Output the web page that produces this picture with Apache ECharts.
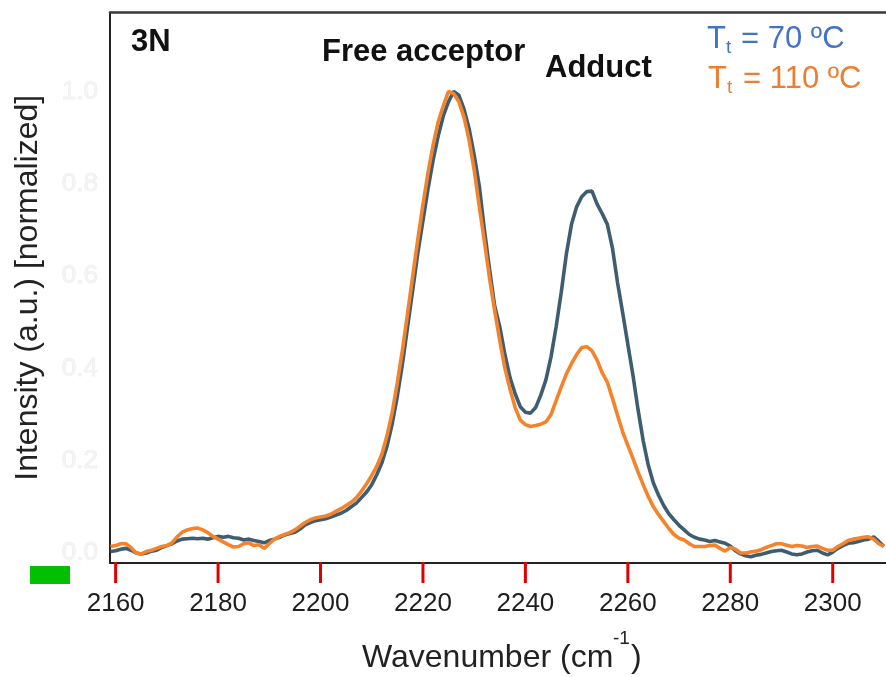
<!DOCTYPE html>
<html>
<head>
<meta charset="utf-8">
<script src="https://cdn.jsdelivr.net/npm/echarts@6/dist/echarts.min.js"></script>
<style>
  html, body { margin: 0; padding: 0; background: #fff; }
  #chart { width: 886px; height: 677px; }
</style>
</head>
<body>
<div id="chart"></div>
<script>
// Wavenumber grid (cm^-1), one point per wavenumber
const wavenumbers = [];
for (let w = 2159; w <= 2310; w++) wavenumbers.push(w);

// Normalized intensity, Tt = 70 ºC
const intensity70 = [
  0.003, 0.005, 0.008, 0.010, 0.006, 0.000, -0.002, 0.000, 0.004, 0.006,
  0.012, 0.016, 0.020, 0.026, 0.030, 0.031, 0.032, 0.031, 0.032, 0.030,
  0.033, 0.036, 0.034, 0.036, 0.033, 0.032, 0.028, 0.030, 0.027, 0.025,
  0.022, 0.027, 0.030, 0.034, 0.039, 0.042, 0.045, 0.052, 0.061, 0.066,
  0.070, 0.072, 0.074, 0.078, 0.082, 0.086, 0.092, 0.100, 0.108, 0.120,
  0.132, 0.148, 0.170, 0.196, 0.232, 0.280, 0.340, 0.410, 0.490, 0.570,
  0.650, 0.720, 0.790, 0.852, 0.905, 0.948, 0.978, 1.000, 0.992, 0.962,
  0.920, 0.862, 0.795, 0.700, 0.615, 0.535, 0.490, 0.430, 0.380, 0.345,
  0.317, 0.305, 0.303, 0.315, 0.342, 0.375, 0.425, 0.490, 0.565, 0.648,
  0.712, 0.750, 0.772, 0.783, 0.784, 0.756, 0.735, 0.712, 0.660, 0.585,
  0.520, 0.452, 0.385, 0.310, 0.243, 0.190, 0.151, 0.125, 0.103, 0.085,
  0.072, 0.060, 0.050, 0.040, 0.034, 0.030, 0.028, 0.025, 0.027, 0.024,
  0.021, 0.015, 0.005, -0.002, -0.006, -0.008, -0.005, -0.003, 0.000, 0.003,
  0.005, 0.006, 0.002, -0.002, -0.004, -0.002, 0.002, 0.005, 0.006, 0.000,
  -0.004, 0.002, 0.010, 0.016, 0.021, 0.022, 0.025, 0.028, 0.030, 0.035,
  0.025, 0.014
];

// Normalized intensity, Tt = 110 ºC
const intensity110 = [
  0.014, 0.016, 0.020, 0.020, 0.012, 0.000, -0.002, 0.003, 0.006, 0.010,
  0.014, 0.016, 0.022, 0.035, 0.045, 0.050, 0.053, 0.054, 0.050, 0.044,
  0.036, 0.030, 0.024, 0.018, 0.013, 0.014, 0.020, 0.022, 0.016, 0.018,
  0.010, 0.020, 0.030, 0.036, 0.040, 0.044, 0.050, 0.058, 0.066, 0.072,
  0.076, 0.078, 0.080, 0.084, 0.090, 0.096, 0.103, 0.110, 0.120, 0.134,
  0.150, 0.168, 0.188, 0.215, 0.255, 0.305, 0.370, 0.440, 0.520, 0.600,
  0.680, 0.755, 0.825, 0.885, 0.935, 0.970, 1.000, 0.995, 0.978, 0.945,
  0.895, 0.830, 0.750, 0.675, 0.595, 0.525, 0.460, 0.400, 0.355, 0.315,
  0.288, 0.278, 0.274, 0.276, 0.279, 0.284, 0.300, 0.330, 0.360, 0.388,
  0.410, 0.430, 0.445, 0.447, 0.438, 0.418, 0.390, 0.370, 0.335, 0.298,
  0.262, 0.233, 0.205, 0.175, 0.148, 0.122, 0.100, 0.083, 0.068, 0.053,
  0.040, 0.032, 0.028, 0.020, 0.014, 0.014, 0.014, 0.016, 0.017, 0.010,
  0.004, 0.012, 0.008, 0.000, 0.000, 0.002, 0.004, 0.007, 0.012, 0.016,
  0.020, 0.020, 0.017, 0.014, 0.016, 0.015, 0.012, 0.014, 0.015, 0.010,
  0.006, 0.006, 0.014, 0.020, 0.027, 0.030, 0.032, 0.034, 0.035, 0.030,
  0.020, 0.014
];

// Tick positions
const xTicks = [2160, 2180, 2200, 2220, 2240, 2260, 2280, 2300];
const yTicks = [0.0, 0.2, 0.4, 0.6, 0.8, 1.0];

// Axis extents
const X_MIN = 2158.9, X_MAX = 2310.4;
const Y_MIN = -0.0217, Y_MAX = 1.171;

const FONT = 'Liberation Sans, Arial, Helvetica, sans-serif';
const LINE70 = '#3f5d71';
const LINE110 = '#f5832c';
const TICK_LEN = 20;

const pairs = (xs, ys) => xs.map((x, i) => [x, ys[i]]);

const chart = echarts.init(document.getElementById('chart'), null, { renderer: 'canvas' });

const textEl = (x, y, text, size, fill, bold) => ({
  type: 'text', x, y,
  style: {
    text, fontSize: size, fontWeight: bold ? 'bold' : 'normal', fontFamily: FONT,
    fill, align: 'left', verticalAlign: 'middle'
  }
});

chart.setOption({
  backgroundColor: '#ffffff',
  animation: false,
  grid: { left: 110, right: 0, top: 12.5, bottom: 114, containLabel: false, outerBoundsMode: 'none' },
  xAxis: [
    {
      type: 'value',
      min: X_MIN,
      max: X_MAX,
      axisLine: { show: true, onZero: false, lineStyle: { color: '#222', width: 2 } },
      axisTick: { show: false },
      axisLabel: {
        show: true, customValues: xTicks, margin: 28,
        color: '#1e1e1e', fontSize: 26, fontFamily: FONT,
        formatter: v => String(v)
      },
      splitLine: { show: false }
    },
    {
      type: 'value',
      position: 'top',
      min: X_MIN,
      max: X_MAX,
      axisLine: { show: true, onZero: false, lineStyle: { color: '#3a3a3a', width: 2.5 } },
      axisTick: { show: false },
      axisLabel: { show: false },
      splitLine: { show: false }
    }
  ],
  yAxis: {
    type: 'value',
    min: Y_MIN,
    max: Y_MAX,
    name: 'Intensity (a.u.) [normalized]',
    nameLocation: 'middle',
    nameRotate: 90,
    nameGap: 66,
    nameTextStyle: { color: '#222', fontSize: 32, fontFamily: FONT },
    axisLine: { show: true, onZero: false, lineStyle: { color: '#222', width: 2 } },
    axisTick: { show: false },
    axisLabel: {
      show: true, customValues: yTicks, margin: 12,
      color: '#f4f4f4', fontSize: 26, fontFamily: FONT,
      textBorderColor: '#e4e4e4', textBorderWidth: 0.6,
      formatter: v => v.toFixed(1)
    },
    splitLine: { show: false }
  },
  series: [
    {
      name: 'Tt = 70 ºC',
      type: 'line',
      data: pairs(wavenumbers, intensity70),
      showSymbol: false,
      smooth: false,
      lineStyle: { color: LINE70, width: 3.6 },
      z: 2
    },
    {
      name: 'Tt = 110 ºC',
      type: 'line',
      data: pairs(wavenumbers, intensity110),
      showSymbol: false,
      smooth: false,
      lineStyle: { color: LINE110, width: 3.6 },
      z: 3
    },
    {
      // outward tick marks hanging below the wavenumber axis
      name: 'xTicks',
      type: 'custom',
      coordinateSystem: 'cartesian2d',
      xAxisIndex: 0,
      yAxisIndex: 0,
      data: xTicks.map(v => [v, Y_MIN]),
      encode: { x: 0, y: 1 },
      clip: false,
      silent: true,
      z: 6,
      renderItem: (params, api) => {
        const p = api.coord([api.value(0), api.value(1)]);
        return {
          type: 'rect',
          shape: { x: p[0] - 1.5, y: p[1] - 1, width: 3, height: TICK_LEN + 1 },
          style: { fill: '#e00000' }
        };
      }
    }
  ],
  graphic: [
    // panel label and peak labels
    textEl(131, 42, '3N', 31, '#111', true),
    textEl(322, 52, 'Free acceptor', 31, '#111', true),
    textEl(545, 68, 'Adduct', 31, '#111', true),

    // legend: Tt = 70 ºC
    textEl(707, 39, 'T', 31, '#4472c4'),
    textEl(726, 48, 't', 19, '#4472c4'),
    textEl(741, 39, '= 70 ºC', 31, '#4472c4'),

    // legend: Tt = 110 ºC
    textEl(708, 79, 'T', 31, '#ed7d31'),
    textEl(727, 88, 't', 19, '#ed7d31'),
    textEl(743, 79, '= 110 ºC', 31, '#ed7d31'),

    // x-axis title with superscript
    textEl(362, 658, 'Wavenumber (cm', 32, '#222'),
    textEl(613, 639, '-1', 19, '#222'),
    textEl(631, 658, ')', 32, '#222'),

    { type: 'rect', shape: { x: 30, y: 566, width: 40, height: 18 }, style: { fill: '#00c000' } }
  ]
});
</script>
</body>
</html>
